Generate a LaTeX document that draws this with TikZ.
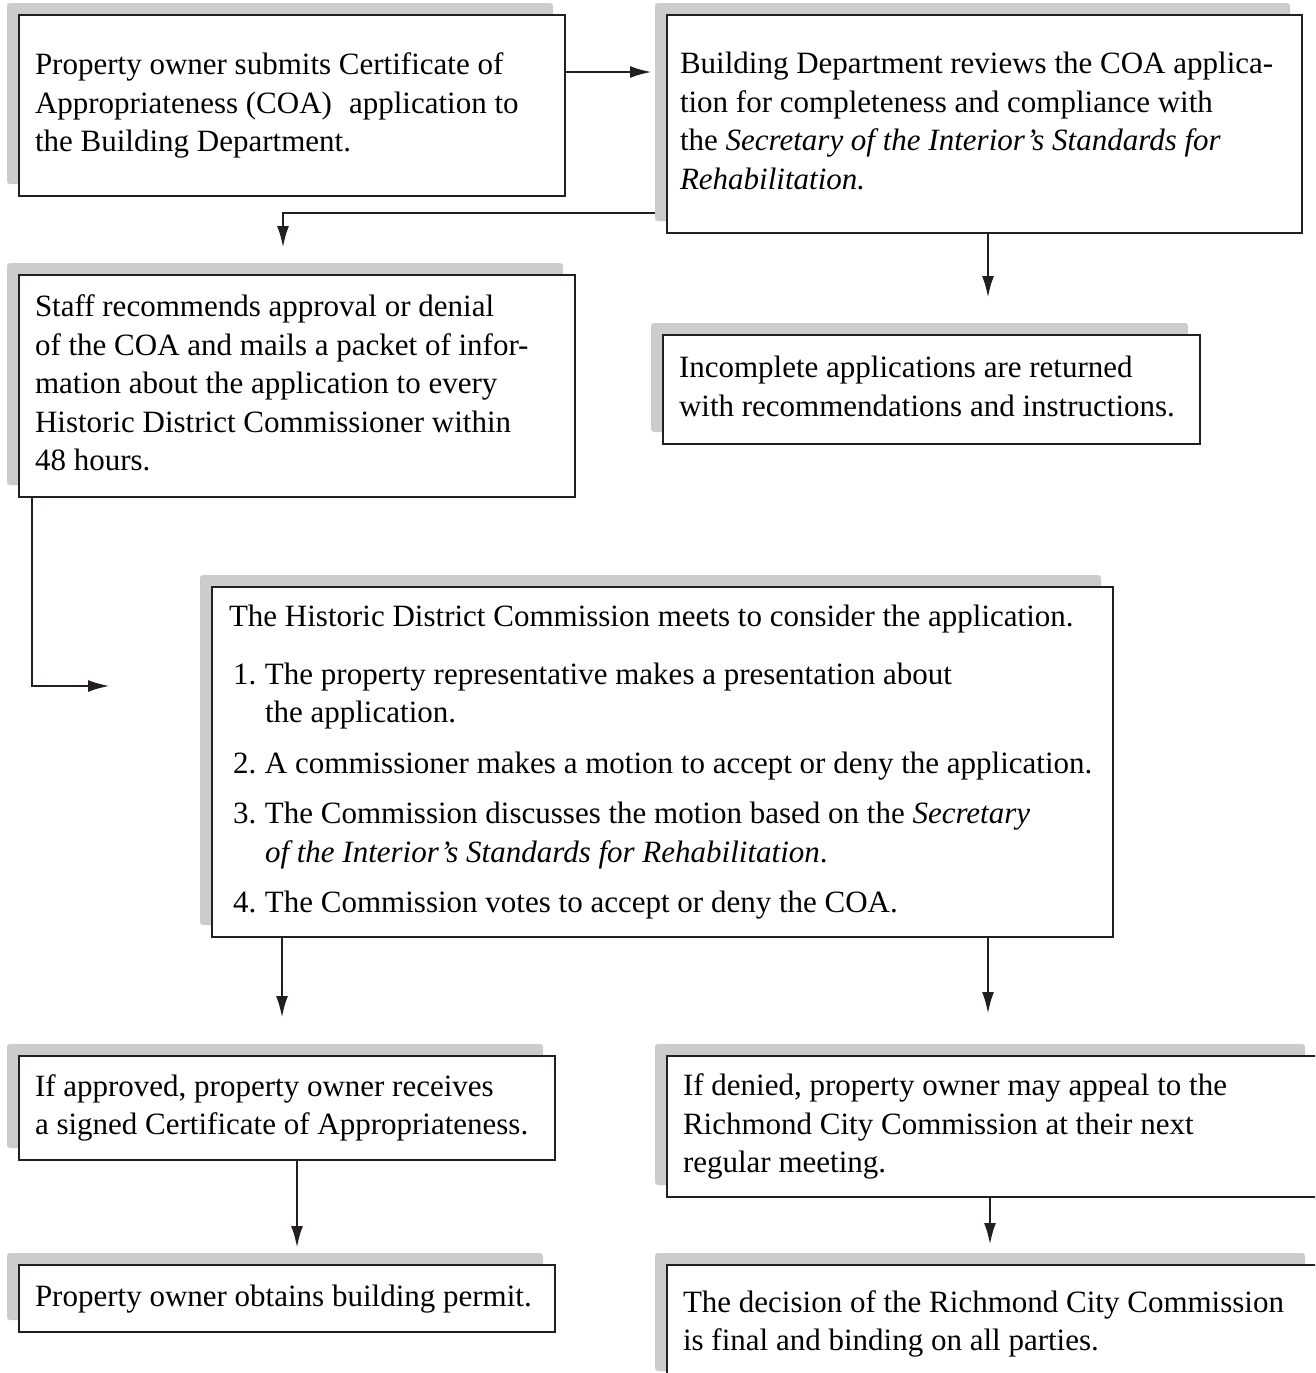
\documentclass[tikz,border=0pt]{standalone}
\usepackage{fontspec}
\setmainfont{Liberation Serif}
\usetikzlibrary{arrows.meta,calc}
\definecolor{shadowgray}{HTML}{CCCCCC}
\definecolor{ink}{HTML}{231F20}
\tikzset{
  flowbox/.style={draw=ink, line width=1.6pt, fill=white, anchor=north west,
    outer sep=0pt, inner ysep=0pt, font=\fontsize{31}{38.5}\selectfont},
  arr/.style={draw=ink, line width=2.8pt, -{Latex[length=22pt,width=12pt]}}
}
% #1 pad, #2 name, #3 x, #4 y, #5 w, #6 h, #7 text
\newcommand{\flowstep}[7][16]{%
  \fill[shadowgray, rounded corners=3pt] (#3-12,#4-12) rectangle ++(#5,#6);
  \pgfmathsetmacro{\tw}{#5-2*#1}%
  \node[flowbox, inner xsep=#1pt, minimum width=#5pt, minimum height=#6pt] (#2) at (#3,#4)
    {\makebox[\tw pt][l]{\begin{tabular}{@{}l@{}}#7\end{tabular}}};
}
\newcommand{\itm}[1]{\hspace*{4pt}\makebox[32pt][l]{#1}}
\newcommand{\ind}{\hspace*{36pt}}
\begin{document}
\begin{tikzpicture}[x=1pt,y=-1pt]
\useasboundingbox (0,0) rectangle (1315,1373);
\clip (0,0) rectangle (1315,1373);

\flowstep{b1}{19}{15}{546}{181}{Property owner submits Certificate of\\
Appropriateness (COA)\hspace{0.3em} application to\\
the Building Department.}

\flowstep[13]{b2}{667}{15}{635}{218}{Building Department reviews the COA applica-\\
tion for completeness and compliance with\\
the \textit{Secretary of the Interior’s Standards for}\\
\textit{Rehabilitation.}}

\flowstep{b3}{19}{275}{556}{222}{Staff recommends approval or denial\\
of the COA and mails a packet of infor-\\
mation about the application to every\\
Historic District Commissioner within\\
48 hours.}

\flowstep{b4}{663}{335}{537}{109}{Incomplete applications are returned\\
with recommendations and instructions.}

\flowstep[17]{b5}{212}{587}{901}{350}{The Historic District Commission meets to consider the application.\\[19pt]
\itm{1.}The property representative makes a presentation about\\
\ind the application.\\[12pt]
\itm{2.}A commissioner makes a motion to accept or deny the application.\\[12pt]
\itm{3.}The Commission discusses the motion based on the \textit{Secretary}\\
\ind\textit{of the Interior’s Standards for Rehabilitation}.\\[12pt]
\itm{4.}The Commission votes to accept or deny the COA.}

\flowstep{b6}{19}{1056}{536}{104}{If approved, property owner receives\\
a signed Certificate of Appropriateness.}

\flowstep{b7}{19}{1265}{536}{67}{Property owner obtains building permit.}

\flowstep{b8}{667}{1056}{650}{141}{If denied, property owner may appeal to the\\
Richmond City Commission at their next\\
regular meeting.}

\flowstep{b9}{667}{1265}{650}{118}{The decision of the Richmond City Commission\\
is final and binding on all parties.}

% connectors
\draw[arr, shorten >=15pt] ($(b1.north east)+(0,57)$) -- ($(b2.north west)+(0,57)$);
\draw[arr, shorten >=27pt] ($(b2.south west)+(-12,-20)$) -| ($(b3.north west)+(264,0)$);
\draw[arr, shorten >=37pt] ($(b2.south west)+(321,0)$) -- ($(b4.north west)+(325,0)$);
\draw[arr, shorten >=102pt] ($(b3.south west)+(13,0)$) |- ($(b5.north west)+(0,99)$);
\draw[arr, shorten >=38pt] ($(b5.south west)+(70,0)$) -- ($(b6.north west)+(263,0)$);
\draw[arr, shorten >=42pt] ($(b5.south west)+(776,0)$) -- ($(b8.north west)+(321,0)$);
\draw[arr, shorten >=17pt] ($(b6.south west)+(278,0)$) -- ($(b7.north west)+(278,0)$);
\draw[arr, shorten >=20pt] ($(b8.south west)+(323,0)$) -- ($(b9.north west)+(323,0)$);
\end{tikzpicture}
\end{document}
